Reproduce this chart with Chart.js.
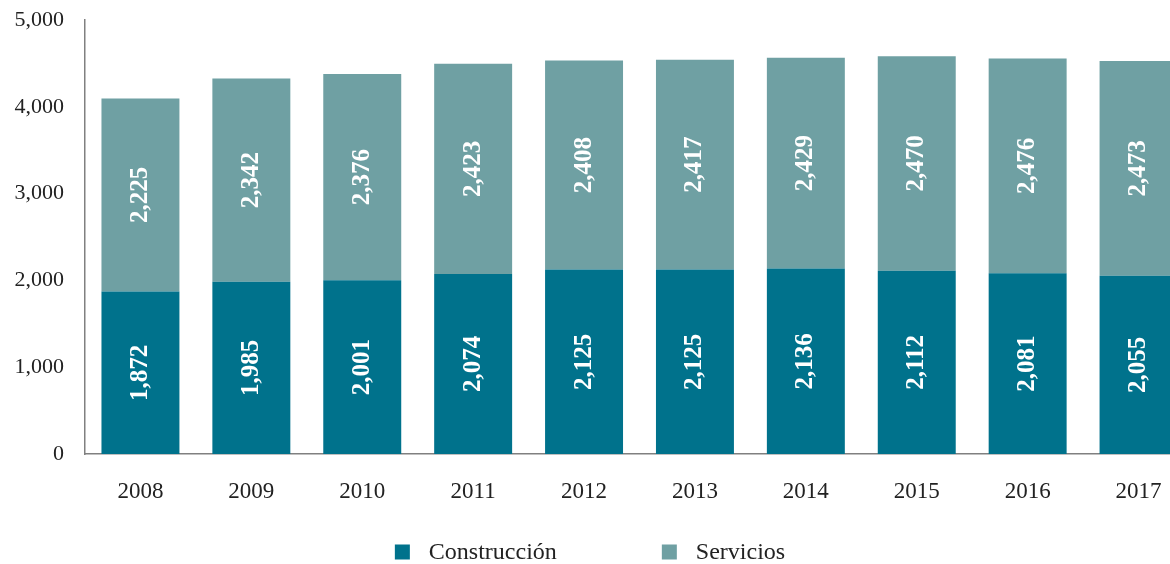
<!DOCTYPE html>
<html>
<head>
<meta charset="utf-8">
<script src="https://cdn.jsdelivr.net/npm/chart.js@4"></script>
<style>
  html, body { margin: 0; padding: 0; background: #fff; overflow: hidden; }
  #wrap { position: absolute; left: 0; top: 0; width: 1194px; height: 564px; }
</style>
</head>
<body>
<div id="wrap"><canvas id="chart1"></canvas></div>
<script>
const years = ['2008', '2009', '2010', '2011', '2012', '2013', '2014', '2015', '2016', '2017'];
const construccion = [1872, 1985, 2001, 2074, 2125, 2125, 2136, 2112, 2081, 2055];
const servicios = [2225, 2342, 2376, 2423, 2408, 2417, 2429, 2470, 2476, 2473];
const yTicks = [0, 1000, 2000, 3000, 4000, 5000];

const darkTeal = '#00728c';
const lightTeal = '#6fa0a3';
const serif = "'Liberation Serif', 'DejaVu Serif', serif";

// white rotated numbers inside each bar segment
const barLabels = {
  id: 'barLabels',
  afterDatasetsDraw(chart) {
    const c = chart.ctx;
    chart.data.datasets.forEach((ds, i) => {
      chart.getDatasetMeta(i).data.forEach((bar, j) => {
        const mid = (bar.y + bar.base) / 2;
        c.save();
        c.translate(bar.x, mid);
        c.rotate(-Math.PI / 2);
        c.fillStyle = '#fff';
        c.font = 'bold 25px ' + serif;
        c.textAlign = 'center';
        c.textBaseline = 'middle';
        c.fillText(ds.data[j].toLocaleString('en-US'), 0, 0);
        c.restore();
      });
    });
  }
};

// legend drawn by hand: wide gap between the two items
const bottomLegend = {
  id: 'bottomLegend',
  afterDraw(chart) {
    const c = chart.ctx;
    const box = 15, gapText = 19, gapItem = 105, cy = 552;
    c.save();
    c.font = '24px ' + serif;
    c.textBaseline = 'middle';
    const items = chart.data.datasets.map(ds => ({ text: ds.label, color: ds.backgroundColor, w: c.measureText(ds.label).width }));
    let total = 0;
    items.forEach((it, k) => { total += box + gapText + it.w + (k ? gapItem : 0); });
    let x = 590 - total / 2;
    items.forEach(it => {
      c.fillStyle = it.color;
      c.fillRect(x, cy - box / 2, box, box);
      c.fillStyle = '#222';
      c.fillText(it.text, x + box + gapText, cy + 1);
      x += box + gapText + it.w + gapItem;
    });
    c.restore();
  }
};

const ctx = document.getElementById('chart1');
new Chart(ctx, {
  type: 'bar',
  data: {
    labels: years,
    datasets: [
      { label: 'Construcción', data: construccion, backgroundColor: darkTeal,
        barPercentage: 0.703, categoryPercentage: 1 },
      { label: 'Servicios', data: servicios, backgroundColor: lightTeal,
        barPercentage: 0.703, categoryPercentage: 1 }
    ]
  },
  options: {
    responsive: true,
    maintainAspectRatio: false,
    animation: false,
    layout: { padding: { top: 20, left: 0, right: 0, bottom: 0 } },
    scales: {
      x: {
        stacked: true,
        grid: { display: false, drawTicks: false },
        border: { color: '#808080', width: 1.5 },
        ticks: { color: '#222', font: { family: serif, size: 23 }, padding: 24 },
        afterFit(s) { s.height = 110; s.paddingLeft = 0; s.paddingRight = 0; }
      },
      y: {
        stacked: true,
        min: 0, max: 5000,
        afterBuildTicks(s) { s.ticks = yTicks.map(v => ({ value: v })); },
        grid: { display: false, drawTicks: false },
        border: { color: '#808080', width: 1.5 },
        ticks: {
          color: '#222', font: { family: serif, size: 22 }, padding: 21,
          callback: v => v.toLocaleString('en-US')
        },
        afterFit(s) { s.width = 85; s.paddingTop = 0; s.paddingBottom = 0; }
      }
    },
    plugins: {
      legend: { display: false },
      tooltip: { enabled: false }
    }
  },
  plugins: [barLabels, bottomLegend]
});
</script>
</body>
</html>
